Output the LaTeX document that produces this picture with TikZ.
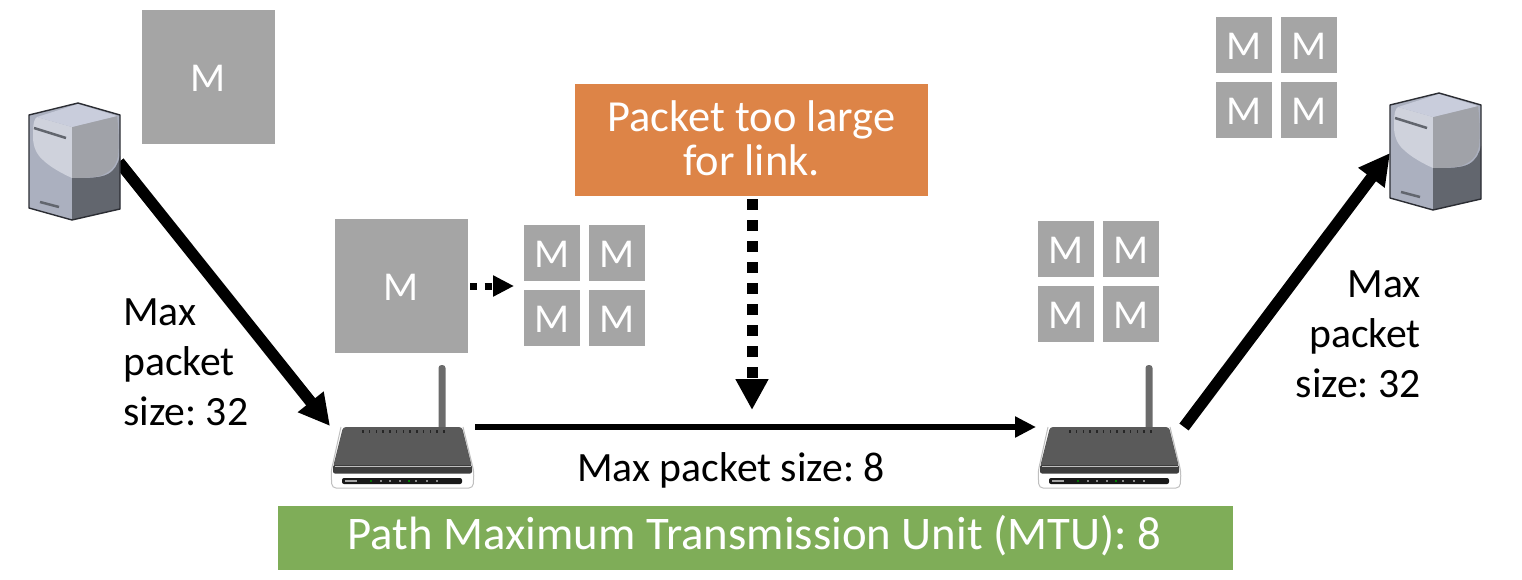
\documentclass[tikz,border=0pt]{standalone}
\usepackage{fontspec}
\setmainfont{Carlito}
\frenchspacing
\usetikzlibrary{arrows.meta,calc}
\definecolor{boxgrey}{HTML}{A5A5A5}
\definecolor{warnorange}{HTML}{DD8447}
\definecolor{pathgreen}{HTML}{7FAD58}
\definecolor{srvTop}{HTML}{C9CDDC}
\definecolor{srvLight}{HTML}{CFD2DC}
\definecolor{srvMid}{HTML}{A0A2A8}
\definecolor{srvLeft}{HTML}{ABB0BF}
\definecolor{srvDark}{HTML}{62666E}
\definecolor{srvEdge}{HTML}{2B2D33}
\definecolor{rtrDark}{HTML}{5A5A5A}
\definecolor{rtrBand}{HTML}{3E3E3E}
\tikzset{
  x=1pt,y=-1pt,
  bigm/.style={fill=boxgrey,minimum width=133pt,minimum height=134pt,inner sep=0pt,text=white,font=\fontsize{41}{41}\selectfont,text height=28.4pt,text depth=0pt},
  smallm/.style={fill=boxgrey,minimum width=56pt,minimum height=56pt,inner sep=0pt,text=white,font=\fontsize{41}{41}\selectfont,text height=28.4pt,text depth=0pt},
  bannerbox/.style={inner sep=0pt},
  bannertext/.style={inner sep=0pt,text=white,align=center},
  lbl/.style={inner sep=0pt,font=\fontsize{41.7}{50}\selectfont},
  thickarrow/.style={line width=11.5pt,-{Triangle[length=31pt,width=31pt]}},
  linkarrow/.style={line width=6pt,-{Triangle[length=21pt,width=20pt]}},
  dotlong/.style={line width=11pt,dash pattern=on 10.5pt off 10.5pt,-{Triangle[length=31pt,width=31pt]}},
  dotshort/.style={line width=7pt,dash pattern=on 7pt off 7.5pt,-{Triangle[length=21pt,width=20pt]}},
  hostbox/.style={inner sep=0pt,minimum width=92pt,minimum height=118pt},
  rtrbox/.style={inner sep=0pt,minimum width=142pt,minimum height=62pt},
  pics/server/.style={code={
    \fill[srvLeft] (-46,-46) -- (3,-58) -- (45,-46) -- (45,48) -- (-3,59) -- (-46,47) -- cycle;
    \fill[srvDark] (-3,17) .. controls (15,17) and (25,17) .. (33,13) .. controls (40,9) and (43,3) .. (45,-5) -- (45,48) -- (-3,59) -- cycle;
    \fill[srvLight] (-3,-34) -- (-38,-44) .. controls (-41,-42) and (-42,-38) .. (-42,-24)
       .. controls (-42,-14) and (-38,-6) .. (-32,-1) .. controls (-25,6) and (-12,13) .. (-3,17) -- cycle;
    \fill[srvMid] (-3,-34) -- (42,-45) .. controls (44,-30) and (44,-15) .. (43,-5)
       .. controls (41,6) and (35,11) .. (25,15) .. controls (15,17) and (5,17) .. (-3,17) -- cycle;
    \fill[srvTop] (-38,-44) -- (3,-57) -- (42,-45) -- (-3,-34) -- cycle;
    \draw[srvEdge,line width=1.4pt,line join=round] (-46,-46) -- (3,-58) -- (45,-46) -- (45,48) -- (-3,59) -- (-46,47) -- cycle;
    \draw[srvDark,line width=2.5pt] (-41,-33) -- (-9,-23);
    \draw[srvDark,line width=2.5pt] (-35,41) -- (-16,46);
  }},
  pics/router/.style={code={
    \fill[black!58,rounded corners=3pt] (35.5,-63) rectangle (42.5,3);
    \fill[white] (-62,0) -- (-71,40) -- (-71,60) -- (70,60) -- (70,40) -- (60,0) -- cycle;
    \draw[black!25,line width=1pt,rounded corners=4pt] (-62,-1) -- (-72,44) -- (-71,60) -- (70,60) -- (71,44) -- (60,-1);
    \fill[rtrDark,rounded corners=3pt] (-60,-1) -- (59,-1) -- (69,39) -- (-70,39) -- cycle;
    \fill[rtrBand,rounded corners=2pt] (-70,37) rectangle (69,45.5);
    \draw[black!25,line width=1pt] (-68,38) -- (68,38);
    \fill[black!90,rounded corners=2pt] (-61,50) rectangle (59,56);
    \fill[black!35] (-58,52) rectangle (-46,54);
    \foreach \i/\c in {-33/green!45!black,-23/black!45,-14/black!45,-4/black!45,5/green!50!black,12/black!45,23/black!45,33/black!45}
      {\fill[\c] (\i,52) rectangle ++(2,2);}
    \foreach \i in {0,...,12} {\fill[black!85] (-41+\i*6.75,1.5) rectangle ++(1.6,3.2);}
  }},
}
\begin{document}
\begin{tikzpicture}
\useasboundingbox (0,0) rectangle (1522,580);
% connector ends
\coordinate (warnTip) at (752,410);
\coordinate (warnFoot) at (752,199);
\coordinate (splitFrom) at (470,286);
\coordinate (splitTo) at (514,286);
\coordinate (aOut) at (119,162);
\coordinate (aIn) at (330,426);
\coordinate (bOut) at (1184,427);
\coordinate (bIn) at (1390,153);
\coordinate (lOut) at (475,427);
\coordinate (lIn) at (1036,427);
% connectors that pass behind the hosts
\draw[thickarrow] (aOut) -- (aIn);
\draw[thickarrow] (bOut) -- (bIn);
% hosts and routers
\node[hostbox] (hostL) at (75,161) {};
\pic at (75,161) {server};
\node[hostbox] (hostR) at (1436,151) {};
\pic at (1436,151) {server};
\node[rtrbox] (rtrL) at (403,458) {};
\pic at (403,428) {router};
\node[rtrbox] (rtrR) at (1110,458) {};
\pic at (1110,428) {router};
% packets
\node[bigm] (pktA) at (208.5,77) {M};
\node[bigm] (pktB) at (401.5,286) {M};
\foreach \n/\x/\y in {a/552/253,b/617/253,c/552/318,d/617/318,
                      e/1066/249,f/1131/249,g/1066/314,h/1131/314,
                      i/1244/45,j/1309/45,k/1244/110,l/1309/110}
  \node[smallm] (m\n) at (\x,\y) {M};
% banners
\node[bannerbox,fill=warnorange,minimum width=353pt,minimum height=112pt] (warn) at (751.5,140) {};
\node[bannertext,font=\fontsize{44.4}{44}\selectfont] (warnT) at (751.5,138.5) {Packet too large\\for link.};
\node[bannerbox,fill=pathgreen,minimum width=955pt,minimum height=64pt] (path) at (755.5,538) {};
\node[bannertext,font=\fontsize{46.75}{50}\selectfont] (pathT) at (754.5,535.5) {Path Maximum Transmission Unit (MTU): 8};
% labels
\node[lbl,align=left,anchor=north west] (lblL) at (123,299) {Max\\packet\\size: 32};
\node[lbl,align=right,anchor=north east] (lblR) at (1421,271) {Max\\packet\\size: 32};
\node[lbl,anchor=base] (lblM) at (731,481) {Max packet size: 8};
% remaining connectors
\draw[linkarrow] (lOut) -- (lIn);
\draw[dotlong] (warnFoot) -- (warnTip);
\draw[dotshort] (splitFrom) -- (splitTo);
\end{tikzpicture}
\end{document}
